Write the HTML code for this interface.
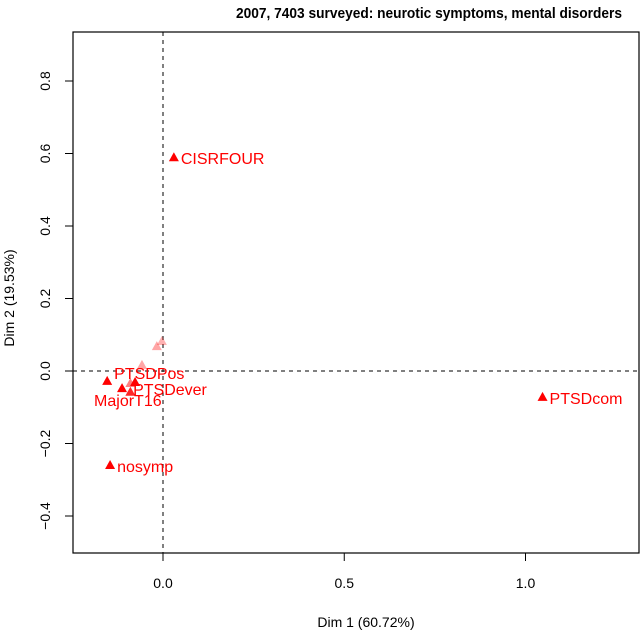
<!DOCTYPE html>
<html><head><meta charset="utf-8"><style>
body{margin:0;background:#fff}
svg{display:block;font-family:"Liberation Sans",Arial,sans-serif}
</style></head><body>
<svg id="c" width="640" height="631" viewBox="0 0 640 631" xmlns="http://www.w3.org/2000/svg">
<text x="429" y="18" text-anchor="middle" font-size="15" font-weight="bold" textLength="386" lengthAdjust="spacingAndGlyphs">2007, 7403 surveyed: neurotic symptoms, mental disorders</text>
<rect x="73" y="32" width="566" height="521" fill="none" stroke="#000" stroke-width="1.2"/>
<text x="366" y="627" text-anchor="middle" font-size="14">Dim 1 (60.72%)</text>
<text transform="translate(14,298) rotate(-90)" text-anchor="middle" font-size="14">Dim 2 (19.53%)</text>
<g id="axes"></g>
<g id="pts"></g>
</svg>
<script>
const labels=["CISRFOUR","PTSDcom","nosymp","PTSDPos","PTSDever","MajorT16","","","","",""];
const xs=[0.03,1.047,-0.146,-0.154,-0.077,-0.113,-0.09,-0.017,-0.003,-0.058,-0.09];
const ys=[0.587,-0.074,-0.262,-0.03,-0.033,-0.05,-0.06,0.066,0.08,0.014,-0.036];
const alphas=[1,1,1,1,1,1,0.85,0.35,0.3,0.35,0.5];
const xTicks=[0,0.5,1.0];
const xTickLabels=["0.0","0.5","1.0"];
const yTicks=[-0.4,-0.2,0,0.2,0.4,0.6,0.8];
const yTickLabels=["−0.4","−0.2","0.0","0.2","0.4","0.6","0.8"];
const X=v=>163+v*362.5, Y=v=>371-v*362.5;
const NS="http://www.w3.org/2000/svg";
function mk(t,a,p){const e=document.createElementNS(NS,t);for(const k in a)e.setAttribute(k,a[k]);p.appendChild(e);return e;}
const ax=document.getElementById('axes'),pg=document.getElementById('pts');
xTicks.forEach((v,i)=>{
 const l=mk('line',{x1:X(v),x2:X(v),y1:553,y2:561,stroke:'#000'},ax);
 
 
 const t=mk('text',{x:X(v),y:588,'text-anchor':'middle','font-size':14},ax);t.textContent=xTickLabels[i];
 
 
});
yTicks.forEach((v,i)=>{
 const l=mk('line',{x1:65,x2:73,y1:Y(v),y2:Y(v),stroke:'#000'},ax);
 
 
 const t=mk('text',{transform:`translate(50,${Y(v)}) rotate(-90)`,'text-anchor':'middle','font-size':14},ax);t.textContent=yTickLabels[i];
 
 
});
const h=mk('line',{x1:73,x2:639,y1:Y(0),y2:Y(0),stroke:'#000','stroke-dasharray':'4,4'},ax);


const vl=mk('line',{x1:X(0),x2:X(0),y1:32,y2:553,stroke:'#000','stroke-dasharray':'4,4'},ax);


const offs={"MajorT16":[-28,17],"PTSDPos":[7,-3],"PTSDever":[-2,12]};
xs.forEach((v,i)=>{
 const cx=X(v),cy=Y(ys[i]);
 const p=mk('polygon',{points:`${cx},${cy-6} ${cx-5},${cy+3} ${cx+5},${cy+3}`,fill:'#f00','fill-opacity':alphas[i]},pg);
 
 
 if(labels[i]){
  const o=offs[labels[i]]||[7,6];
  const t=mk('text',{x:cx+o[0],y:cy+o[1],'font-size':16,fill:'#f00'},pg);t.textContent=labels[i];
  
  
 }
});
</script>
</body></html>
